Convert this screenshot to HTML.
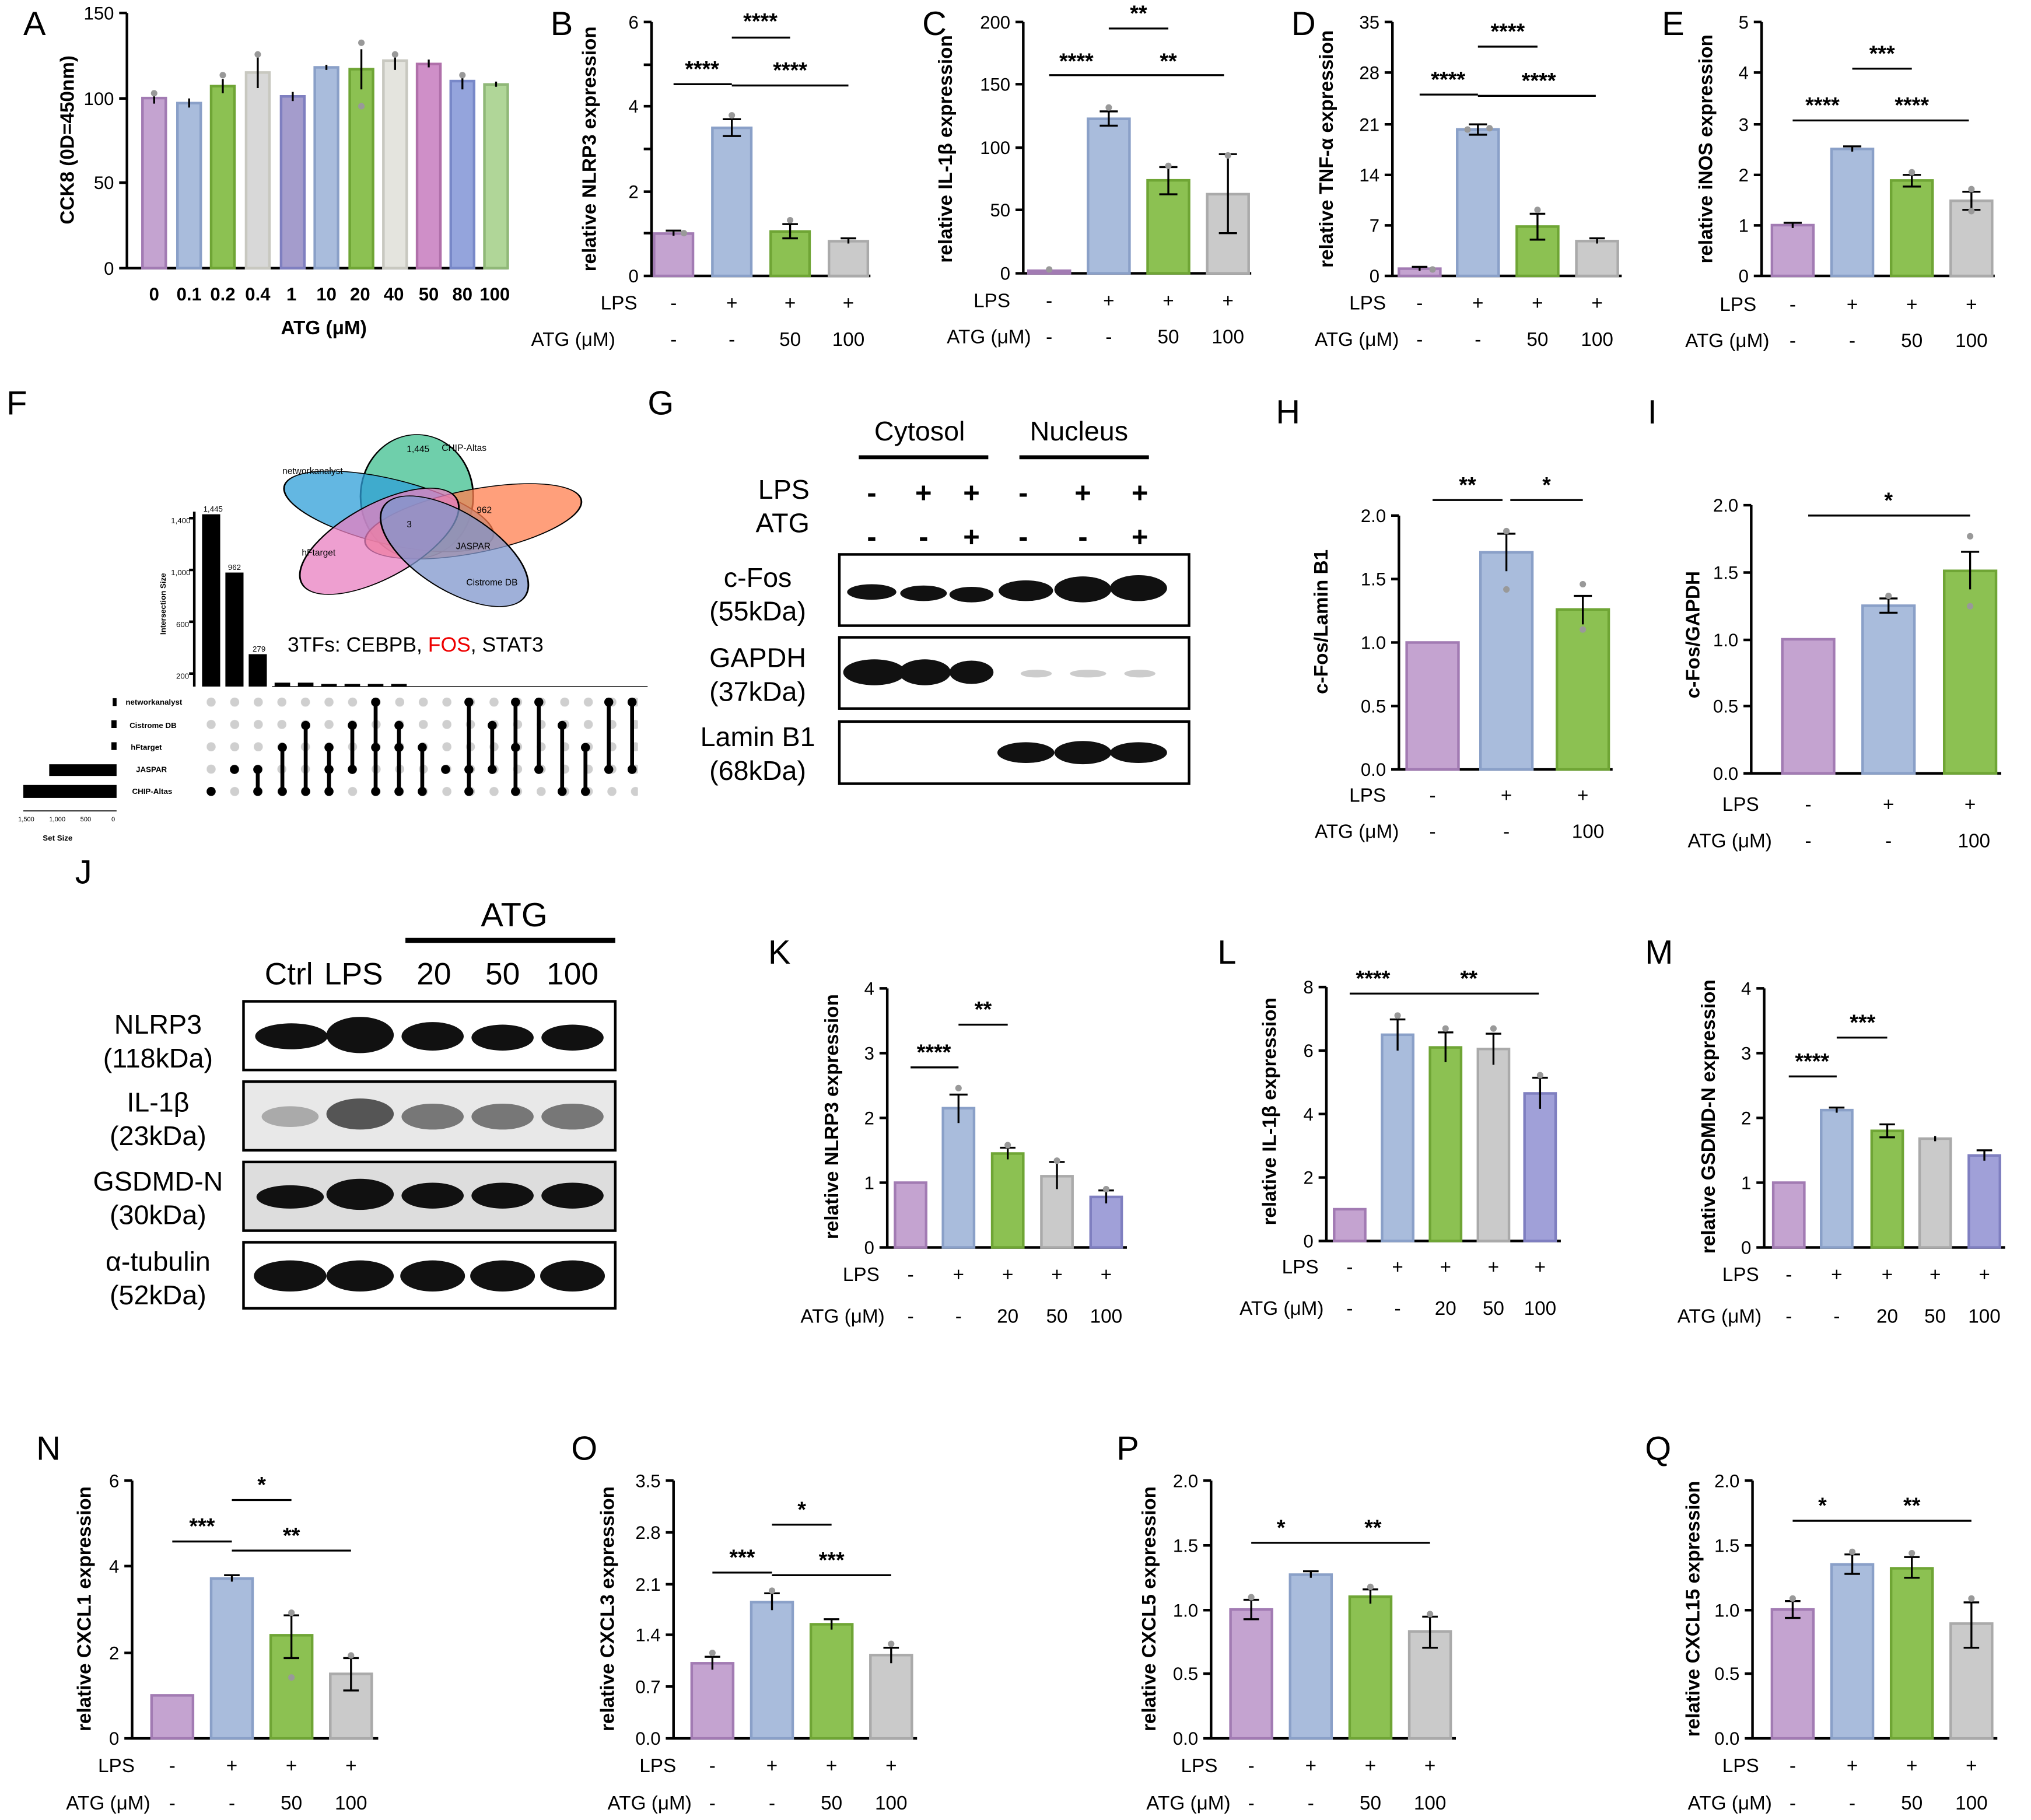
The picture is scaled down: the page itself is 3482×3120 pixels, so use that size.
<!DOCTYPE html>
<html><head><meta charset="utf-8"><style>
html,body{margin:0;padding:0;background:#fff}
svg{display:block}
text{font-family:"Liberation Sans",Arial,sans-serif;fill:#000}
.t{font-size:14px;text-anchor:end}
.c{font-size:15px;text-anchor:middle}
.r{font-size:15px;text-anchor:end}
.yl{font-size:15px;font-weight:bold;text-anchor:middle}
.L{font-size:26px}
.s{font-size:17px;font-weight:bold;text-anchor:middle}
.ax{stroke:#000;stroke-width:2;fill:none}
.e{stroke:#000;stroke-width:1.5;fill:none}
.P{fill:#c4a3d0;stroke:#a27bb3;stroke-width:2}
.B{fill:#a9bcdc;stroke:#8aa0c8;stroke-width:2}
.G{fill:#8cc152;stroke:#6fa535;stroke-width:2}
.Y{fill:#cacaca;stroke:#aaa;stroke-width:2}
.V{fill:#a0a0d8;stroke:#7f7fc0;stroke-width:2}
.W{fill:#e4e4de;stroke:#c8c8c0;stroke-width:2}
.K{fill:#cf8fc8;stroke:#b070aa;stroke-width:2}
.N{fill:#94a4dc;stroke:#7888c8;stroke-width:2}
.H{fill:#b0d698;stroke:#90b878;stroke-width:2}
.bl{font-size:21px;text-anchor:middle}
.band{fill:#111}
</style></head><body>
<svg width="3482" height="3120" viewBox="0 0 1568 1405" preserveAspectRatio="none" xmlns="http://www.w3.org/2000/svg">
<defs><pattern id="dp" x="159.5" y="533.4" width="18.2" height="17.25" patternUnits="userSpaceOnUse"><circle cx="3.5" cy="8.6" r="3.5" fill="#cfcfcf"/></pattern></defs>
<rect width="1568" height="1405" fill="#fff"/>
<text class="L" x="18" y="27">A</text><text class="L" x="425" y="27">B</text><text class="L" x="712" y="27">C</text><text class="L" x="997" y="27">D</text><text class="L" x="1283" y="27">E</text>
<text class="L" x="5" y="320">F</text><text class="L" x="500" y="320">G</text><text class="L" x="985" y="327">H</text><text class="L" x="1272" y="327">I</text>
<text class="L" x="58" y="682">J</text><text class="L" x="593" y="744">K</text><text class="L" x="940" y="744">L</text><text class="L" x="1270" y="744">M</text>
<text class="L" x="28" y="1127">N</text><text class="L" x="441" y="1127">O</text><text class="L" x="862" y="1127">P</text><text class="L" x="1270" y="1127">Q</text>

<!-- A -->
<g>
<path class="ax" d="M98 10V207H392M92 10H98M92 76H98M92 141H98M92 207H98"/>
<text class="t" x="88" y="15">150</text><text class="t" x="88" y="81">100</text><text class="t" x="88" y="146">50</text><text class="t" x="88" y="212">0</text>
<text class="yl" transform="translate(57,108) rotate(-90)">CCK8 (0D=450nm)</text>
<rect class="P" x="110" y="75.7" width="18" height="131.3"/><rect class="B" x="137" y="79.6" width="18" height="127.4"/>
<rect class="G" x="163" y="66.5" width="18" height="140.5"/><rect class="W" x="190" y="56" width="18" height="151" style="fill:#d8d8d8"/>
<rect class="V" x="217" y="74.4" width="18" height="132.6" style="fill:#a49ccc"/><rect class="B" x="243" y="52" width="18" height="155"/>
<rect class="G" x="270" y="53.4" width="18" height="153.6"/><rect class="W" x="296" y="46.8" width="18" height="160.2"/>
<rect class="K" x="322" y="49.4" width="18" height="157.6"/><rect class="N" x="348" y="62.6" width="18" height="144.4"/>
<rect class="H" x="374" y="65.2" width="18" height="141.8"/>
<path class="e" d="M119 71V80M146 76V83M172 61V72M199 44V68M226 71V78M252 50V54M279 38V69M305 40V54M331 46V52M357 56V69M383 63V67"/>
<g fill="#999"><circle cx="119" cy="72" r="2.5"/><circle cx="172" cy="58" r="2.5"/><circle cx="199" cy="42" r="2.5"/><circle cx="279" cy="33" r="2.5"/><circle cx="279" cy="82" r="2.5"/><circle cx="305" cy="42" r="2.5"/><circle cx="357" cy="58" r="2.5"/></g>
<g font-size="14" font-weight="bold" text-anchor="middle"><text x="119" y="232">0</text><text x="146" y="232">0.1</text><text x="172" y="232">0.2</text><text x="199" y="232">0.4</text><text x="225" y="232">1</text><text x="252" y="232">10</text><text x="278" y="232">20</text><text x="304" y="232">40</text><text x="331" y="232">50</text><text x="357" y="232">80</text><text x="382" y="232">100</text></g>
<text class="yl" x="250" y="258">ATG (μM)</text>
</g>

<!-- B -->
<g>
<path class="ax" d="M503 17V213H672M497 17H503M497 50H503M497 82H503M497 115H503M497 148H503M497 180H503M497 213H503"/>
<text class="t" x="493" y="22">6</text><text class="t" x="493" y="87">4</text><text class="t" x="493" y="153">2</text><text class="t" x="493" y="218">0</text>
<text class="yl" transform="translate(460,115) rotate(-90)">relative NLRP3 expression</text>
<rect class="P" x="505" y="180.3" width="30" height="32.7"/><rect class="B" x="550" y="98.7" width="30" height="114.3"/><rect class="G" x="595" y="178.7" width="30" height="34.3"/><rect class="Y" x="640" y="186.2" width="30" height="26.8"/>
<path class="e" d="M565 92V105M558 92H572M558 105H572M610 173V184M604 173H616M604 184H616M520 178V182M514 178H526M655 184V188M649 184H661"/>
<g fill="#999"><circle cx="565" cy="89" r="2.5"/><circle cx="610" cy="170" r="2.5"/><circle cx="528" cy="180" r="2.5"/></g>
<path class="e" d="M520 65H565M565 29H610M565 66H655"/>
<text class="s" x="542" y="59">****</text><text class="s" x="587" y="22">****</text><text class="s" x="610" y="60">****</text>
<text class="r" x="492" y="239">LPS</text><text class="r" x="475" y="267">ATG (μM)</text>
<g class="c"><text x="520" y="239">-</text><text x="565" y="239">+</text><text x="610" y="239">+</text><text x="655" y="239">+</text><text x="520" y="267">-</text><text x="565" y="267">-</text><text x="610" y="267">50</text><text x="655" y="267">100</text></g>
</g>

<!-- C -->
<g>
<path class="ax" d="M790 17V211H966M784 17H790M784 65H790M784 114H790M784 162H790M784 211H790"/>
<text class="t" x="780" y="22">200</text><text class="t" x="780" y="70">150</text><text class="t" x="780" y="119">100</text><text class="t" x="780" y="167">50</text><text class="t" x="780" y="216">0</text>
<text class="yl" transform="translate(735,115) rotate(-90)">relative IL-1β expression</text>
<rect class="P" x="794" y="209" width="32" height="2"/><rect class="B" x="840" y="91.7" width="32" height="119.3"/><rect class="G" x="886" y="139.2" width="32" height="71.8"/><rect class="Y" x="932" y="149.9" width="32" height="61.1"/>
<path class="e" d="M856 86V97M849 86H863M849 97H863M902 129V150M895 129H909M895 150H909M948 119V180M941 119H955M941 180H955"/>
<g fill="#999"><circle cx="856" cy="83" r="2.5"/><circle cx="902" cy="128" r="2.5"/><circle cx="948" cy="120" r="2.5"/><circle cx="810" cy="208" r="2.5"/></g>
<path class="e" d="M856 22H902M810 58H856M856 58H945"/>
<text class="s" x="879" y="16">**</text><text class="s" x="831" y="53">****</text><text class="s" x="902" y="53">**</text>
<text class="r" x="780" y="237">LPS</text><text class="r" x="796" y="265">ATG (μM)</text>
<g class="c"><text x="810" y="237">-</text><text x="856" y="237">+</text><text x="902" y="237">+</text><text x="948" y="237">+</text><text x="810" y="265">-</text><text x="856" y="265">-</text><text x="902" y="265">50</text><text x="948" y="265">100</text></g>
</g>

<!-- D -->
<g>
<path class="ax" d="M1075 17V213H1252M1069 17H1075M1069 56H1075M1069 96H1075M1069 135H1075M1069 174H1075M1069 213H1075"/>
<text class="t" x="1065" y="22">35</text><text class="t" x="1065" y="61">28</text><text class="t" x="1065" y="101">21</text><text class="t" x="1065" y="140">14</text><text class="t" x="1065" y="179">7</text><text class="t" x="1065" y="218">0</text>
<text class="yl" transform="translate(1029,115) rotate(-90)">relative TNF-α expression</text>
<rect class="P" x="1080" y="207.4" width="32" height="5.6"/><rect class="B" x="1125" y="99.9" width="32" height="113.1"/><rect class="G" x="1171" y="174.9" width="32" height="38.1"/><rect class="Y" x="1217" y="186.1" width="32" height="26.9"/>
<path class="e" d="M1187 165V185M1181 165H1193M1181 185H1193M1141 96V104M1134 96H1148M1134 104H1148M1096 206V209M1090 206H1102M1233 184V188M1227 184H1239"/>
<g fill="#999"><circle cx="1133" cy="100" r="2.5"/><circle cx="1150" cy="99" r="2.5"/><circle cx="1187" cy="162" r="2.5"/><circle cx="1106" cy="208" r="2.5"/></g>
<path class="e" d="M1096 73H1141M1141 36H1187M1141 74H1232"/>
<text class="s" x="1118" y="67">****</text><text class="s" x="1164" y="30">****</text><text class="s" x="1188" y="68">****</text>
<text class="r" x="1070" y="239">LPS</text><text class="r" x="1080" y="267">ATG (μM)</text>
<g class="c"><text x="1096" y="239">-</text><text x="1141" y="239">+</text><text x="1187" y="239">+</text><text x="1233" y="239">+</text><text x="1096" y="267">-</text><text x="1141" y="267">-</text><text x="1187" y="267">50</text><text x="1233" y="267">100</text></g>
</g>

<!-- E -->
<g>
<path class="ax" d="M1360 17V213H1540M1354 17H1360M1354 56H1360M1354 96H1360M1354 135H1360M1354 174H1360M1354 213H1360"/>
<text class="t" x="1350" y="22">5</text><text class="t" x="1350" y="61">4</text><text class="t" x="1350" y="101">3</text><text class="t" x="1350" y="140">2</text><text class="t" x="1350" y="179">1</text><text class="t" x="1350" y="218">0</text>
<text class="yl" transform="translate(1322,115) rotate(-90)">relative iNOS expression</text>
<rect class="P" x="1368" y="173.8" width="32" height="39.2"/><rect class="B" x="1414" y="115" width="32" height="98"/><rect class="G" x="1460" y="139.3" width="32" height="73.7"/><rect class="Y" x="1506" y="155" width="32" height="58"/>
<path class="e" d="M1384 172V176M1377 172H1391M1430 113V117M1423 113H1437M1476 135V144M1469 135H1483M1469 144H1483M1522 148V162M1515 148H1529M1515 162H1529"/>
<g fill="#999"><circle cx="1476" cy="133" r="2.5"/><circle cx="1522" cy="146" r="2.5"/><circle cx="1522" cy="163" r="2.5"/></g>
<path class="e" d="M1384 93H1430M1430 53H1476M1430 93H1520"/>
<text class="s" x="1407" y="87">****</text><text class="s" x="1453" y="47">***</text><text class="s" x="1476" y="87">****</text>
<text class="r" x="1356" y="240">LPS</text><text class="r" x="1366" y="268">ATG (μM)</text>
<g class="c"><text x="1384" y="240">-</text><text x="1430" y="240">+</text><text x="1476" y="240">+</text><text x="1522" y="240">+</text><text x="1384" y="268">-</text><text x="1430" y="268">-</text><text x="1476" y="268">50</text><text x="1522" y="268">100</text></g>
</g>

<!-- F -->
<g>
<g transform="translate(332,404) scale(1.45,0.77) translate(-322,-412)">
<g stroke="#000" stroke-width="0.9" fill-opacity="0.75" vector-effect="non-scaling-stroke">
<ellipse cx="315" cy="385" rx="30" ry="62" fill="#3fbf8f"/>
<ellipse cx="300" cy="400" rx="30" ry="62" fill="#2f9fd8" transform="rotate(-60 300 400)"/>
<ellipse cx="345" cy="410" rx="30" ry="62" fill="#ff7f4f" transform="rotate(65 345 410)"/>
<ellipse cx="295" cy="430" rx="28" ry="62" fill="#e87fc0" transform="rotate(35 295 430)"/>
<ellipse cx="335" cy="440" rx="28" ry="62" fill="#7f95cc" transform="rotate(-30 335 440)"/>
</g>
</g>
<g font-size="7" font-family="Liberation Serif"><text x="341" y="348">CHIP-Altas</text><text x="218" y="366">networkanalyst</text><text x="352" y="424">JASPAR</text><text x="233" y="429">hFtarget</text><text x="360" y="452">Cistrome DB</text><text x="314" y="349">1,445</text><text x="368" y="396">962</text><text x="314" y="407">3</text></g>
<path class="ax" d="M150 395V530M146 400H150M146 440H150M146 480H150M146 520H150" stroke-width="1"/>
<rect x="156" y="397" width="14" height="133"/><rect x="174" y="442" width="14" height="88"/><rect x="192" y="505" width="14" height="25"/>
<g><rect x="212" y="527" width="12" height="3"/><rect x="230" y="527" width="12" height="3"/><rect x="248" y="528" width="12" height="2"/><rect x="266" y="528" width="12" height="2"/><rect x="284" y="528" width="12" height="2"/><rect x="302" y="528" width="12" height="2"/></g>
<g font-size="6"><text x="132" y="404">1,400</text><text x="132" y="444">1,000</text><text x="136" y="484">600</text><text x="136" y="524">200</text><text x="157" y="395">1,445</text><text x="176" y="440">962</text><text x="195" y="503">279</text></g>
<text font-size="6" font-weight="bold" transform="translate(128,490) rotate(-90)">Intersection Size</text>
<text x="222" y="503" font-size="16">3TFs: CEBPB, <tspan fill="#e00">FOS</tspan>, STAT3</text>
<path d="M210 530H500" stroke="#000" stroke-width="0.6"/>
<rect x="159.5" y="533.4" width="333" height="86" fill="url(#dp)"/>
<path d="M199 594V611M218 577V611M236 560V611M254 577V611M272 560V594M290 542V611M308 560V611M326 577V611M362 542V611M380 560V594M398 542V611M416 542V594M434 560V611M452 577V611M470 542V594M488 542V594" stroke="#000" stroke-width="3"/>
<g fill="#000"><circle cx="163" cy="611" r="3.5"/><circle cx="181" cy="594" r="3.5"/><circle cx="199" cy="594" r="3.5"/><circle cx="199" cy="611" r="3.5"/>
<circle cx="218" cy="577" r="3.5"/><circle cx="218" cy="611" r="3.5"/><circle cx="236" cy="560" r="3.5"/><circle cx="236" cy="611" r="3.5"/>
<circle cx="254" cy="577" r="3.5"/><circle cx="254" cy="594" r="3.5"/><circle cx="254" cy="611" r="3.5"/><circle cx="272" cy="560" r="3.5"/><circle cx="272" cy="594" r="3.5"/>
<circle cx="290" cy="542" r="3.5"/><circle cx="290" cy="577" r="3.5"/><circle cx="290" cy="611" r="3.5"/><circle cx="308" cy="560" r="3.5"/><circle cx="308" cy="577" r="3.5"/><circle cx="308" cy="611" r="3.5"/>
<circle cx="326" cy="577" r="3.5"/><circle cx="326" cy="611" r="3.5"/><circle cx="344" cy="594" r="3.5"/><circle cx="362" cy="542" r="3.5"/><circle cx="362" cy="594" r="3.5"/><circle cx="362" cy="611" r="3.5"/>
<circle cx="380" cy="560" r="3.5"/><circle cx="380" cy="594" r="3.5"/><circle cx="398" cy="542" r="3.5"/><circle cx="398" cy="577" r="3.5"/><circle cx="398" cy="611" r="3.5"/>
<circle cx="416" cy="542" r="3.5"/><circle cx="416" cy="594" r="3.5"/><circle cx="434" cy="560" r="3.5"/><circle cx="434" cy="611" r="3.5"/><circle cx="452" cy="577" r="3.5"/><circle cx="452" cy="611" r="3.5"/>
<circle cx="470" cy="542" r="3.5"/><circle cx="470" cy="594" r="3.5"/><circle cx="488" cy="542" r="3.5"/><circle cx="488" cy="594" r="3.5"/></g>
<rect x="87" y="539" width="3" height="6"/><rect x="86" y="556" width="4" height="6"/><rect x="86" y="573" width="4" height="6"/><rect x="38" y="590" width="52" height="9"/><rect x="18" y="606" width="72" height="10"/>
<g font-size="6" font-weight="bold" font-family="Liberation Serif"><text x="97" y="544">networkanalyst</text><text x="100" y="562">Cistrome DB</text><text x="101" y="579">hFtarget</text><text x="105" y="596">JASPAR</text><text x="102" y="613">CHIP-Altas</text></g>
<path d="M18 626H90" stroke="#000" stroke-width="0.8"/>
<g font-size="5"><text x="14" y="634">1,500</text><text x="38" y="634">1,000</text><text x="62" y="634">500</text><text x="86" y="634">0</text></g>
<text x="33" y="649" font-size="6" font-weight="bold">Set Size</text>
</g>

<!-- G -->
<g>
<text class="bl" x="710" y="340">Cytosol</text><text class="bl" x="833" y="340">Nucleus</text>
<path d="M663 353H763M787 353H887" stroke="#000" stroke-width="3"/>
<text x="625" y="385" font-size="21" text-anchor="end">LPS</text><text x="625" y="411" font-size="21" text-anchor="end">ATG</text>
<g font-size="22" text-anchor="middle" font-weight="bold"><text x="673" y="388">-</text><text x="713" y="388">+</text><text x="750" y="388">+</text><text x="790" y="388">-</text><text x="836" y="388">+</text><text x="880" y="388">+</text>
<text x="673" y="422">-</text><text x="713" y="422">-</text><text x="750" y="422">+</text><text x="790" y="422">-</text><text x="836" y="422">-</text><text x="880" y="422">+</text></g>
<rect x="648" y="428" width="270" height="55" fill="#fff" stroke="#000" stroke-width="2"/>
<rect x="648" y="492" width="270" height="55" fill="#fff" stroke="#000" stroke-width="2"/>
<rect x="648" y="557" width="270" height="48" fill="#fff" stroke="#000" stroke-width="2"/>
<g class="band"><ellipse cx="673" cy="457" rx="19" ry="6"/><ellipse cx="713" cy="458" rx="18" ry="6"/><ellipse cx="750" cy="459" rx="17" ry="6"/><ellipse cx="792" cy="456" rx="21" ry="8"/><ellipse cx="836" cy="455" rx="22" ry="10"/><ellipse cx="879" cy="454" rx="22" ry="10"/>
<ellipse cx="675" cy="519" rx="24" ry="10"/><ellipse cx="714" cy="519" rx="20" ry="10"/><ellipse cx="750" cy="519" rx="17" ry="9"/>
<ellipse cx="792" cy="581" rx="22" ry="8"/><ellipse cx="836" cy="581" rx="22" ry="9"/><ellipse cx="879" cy="581" rx="22" ry="8"/></g>
<g fill="#ccc"><ellipse cx="800" cy="520" rx="12" ry="3"/><ellipse cx="840" cy="520" rx="14" ry="3"/><ellipse cx="880" cy="520" rx="12" ry="3"/></g>
<text class="bl" x="585" y="453">c-Fos</text><text class="bl" x="585" y="479">(55kDa)</text>
<text class="bl" x="585" y="515">GAPDH</text><text class="bl" x="585" y="541">(37kDa)</text>
<text class="bl" x="585" y="576">Lamin B1</text><text class="bl" x="585" y="602">(68kDa)</text>
</g>

<!-- H -->
<g>
<path class="ax" d="M1080 398V594H1245M1074 398H1080M1074 447H1080M1074 496H1080M1074 545H1080M1074 594H1080"/>
<text class="t" x="1070" y="403">2.0</text><text class="t" x="1070" y="452">1.5</text><text class="t" x="1070" y="501">1.0</text><text class="t" x="1070" y="550">0.5</text><text class="t" x="1070" y="599">0.0</text>
<text class="yl" transform="translate(1025,480) rotate(-90)">c-Fos/Lamin B1</text>
<rect class="P" x="1086" y="496" width="40" height="98"/><rect class="B" x="1143" y="426.4" width="40" height="167.6"/><rect class="G" x="1202" y="470.5" width="40" height="123.5"/>
<path class="e" d="M1163 412V441M1156 412H1170M1222 460V482M1215 460H1229"/>
<g fill="#999"><circle cx="1163" cy="410" r="2.5"/><circle cx="1163" cy="455" r="2.5"/><circle cx="1222" cy="451" r="2.5"/><circle cx="1222" cy="486" r="2.5"/></g>
<path class="e" d="M1106 386H1160M1166 386H1222"/>
<text class="s" x="1133" y="380">**</text><text class="s" x="1194" y="380">*</text>
<text class="r" x="1070" y="619">LPS</text><text class="r" x="1080" y="647">ATG (μM)</text>
<g class="c"><text x="1106" y="619">-</text><text x="1163" y="619">+</text><text x="1222" y="619">+</text><text x="1106" y="647">-</text><text x="1163" y="647">-</text><text x="1226" y="647">100</text></g>
</g>

<!-- I -->
<g>
<path class="ax" d="M1352 390V597H1545M1346 390H1352M1346 442H1352M1346 494H1352M1346 545H1352M1346 597H1352"/>
<text class="t" x="1342" y="395">2.0</text><text class="t" x="1342" y="447">1.5</text><text class="t" x="1342" y="499">1.0</text><text class="t" x="1342" y="550">0.5</text><text class="t" x="1342" y="602">0.0</text>
<text class="yl" transform="translate(1312,490) rotate(-90)">c-Fos/GAPDH</text>
<rect class="P" x="1376" y="493.5" width="40" height="103.5"/><rect class="B" x="1438" y="467.6" width="40" height="129.4"/><rect class="G" x="1501" y="440.7" width="40" height="156.3"/>
<path class="e" d="M1521 426V455M1514 426H1528M1458 462V473M1451 462H1465M1451 473H1465"/>
<g fill="#999"><circle cx="1521" cy="414" r="2.5"/><circle cx="1521" cy="468" r="2.5"/><circle cx="1458" cy="460" r="2.5"/></g>
<path class="e" d="M1396 398H1521"/>
<text class="s" x="1458" y="392">*</text>
<text class="r" x="1358" y="626">LPS</text><text class="r" x="1368" y="654">ATG (μM)</text>
<g class="c"><text x="1396" y="626">-</text><text x="1458" y="626">+</text><text x="1521" y="626">+</text><text x="1396" y="654">-</text><text x="1458" y="654">-</text><text x="1524" y="654">100</text></g>
</g>

<!-- J -->
<g>
<text x="397" y="715" font-size="26" text-anchor="middle">ATG</text>
<path d="M313 726H475" stroke="#000" stroke-width="4"/>
<g font-size="24" text-anchor="middle"><text x="223" y="760">Ctrl</text><text x="273" y="760">LPS</text><text x="335" y="760">20</text><text x="388" y="760">50</text><text x="442" y="760">100</text></g>
<rect x="188" y="773" width="287" height="53" fill="#fff" stroke="#000" stroke-width="2"/>
<rect x="188" y="835" width="287" height="53" fill="#e8e8e8" stroke="#000" stroke-width="2"/>
<rect x="188" y="897" width="287" height="53" fill="#ddd" stroke="#000" stroke-width="2"/>
<rect x="188" y="959" width="287" height="51" fill="#fff" stroke="#000" stroke-width="2"/>
<g class="band"><ellipse cx="225" cy="800" rx="28" ry="10"/><ellipse cx="278" cy="799" rx="26" ry="14"/><ellipse cx="334" cy="800" rx="24" ry="11"/><ellipse cx="388" cy="801" rx="24" ry="10"/><ellipse cx="442" cy="801" rx="24" ry="10"/>
<ellipse cx="224" cy="924" rx="26" ry="9"/><ellipse cx="278" cy="922" rx="26" ry="12"/><ellipse cx="334" cy="923" rx="24" ry="10"/><ellipse cx="388" cy="923" rx="24" ry="10"/><ellipse cx="442" cy="923" rx="24" ry="10"/>
<ellipse cx="224" cy="985" rx="28" ry="12"/><ellipse cx="278" cy="985" rx="26" ry="12"/><ellipse cx="334" cy="985" rx="25" ry="12"/><ellipse cx="388" cy="985" rx="25" ry="12"/><ellipse cx="442" cy="985" rx="25" ry="12"/></g>
<g fill="#777"><ellipse cx="224" cy="862" rx="22" ry="8" fill="#aaa"/><ellipse cx="278" cy="860" rx="26" ry="12" fill="#555"/><ellipse cx="334" cy="862" rx="24" ry="10"/><ellipse cx="388" cy="862" rx="24" ry="10"/><ellipse cx="442" cy="862" rx="24" ry="10"/></g>
<g class="bl"><text x="122" y="798">NLRP3</text><text x="122" y="824">(118kDa)</text><text x="122" y="858">IL-1β</text><text x="122" y="884">(23kDa)</text><text x="122" y="919">GSDMD-N</text><text x="122" y="945">(30kDa)</text><text x="122" y="981">α-tubulin</text><text x="122" y="1007">(52kDa)</text></g>
</g>

<!-- K -->
<g>
<path class="ax" d="M685 763V963H870M679 763H685M679 813H685M679 863H685M679 913H685M679 963H685"/>
<text class="t" x="675" y="768">4</text><text class="t" x="675" y="818">3</text><text class="t" x="675" y="868">2</text><text class="t" x="675" y="918">1</text><text class="t" x="675" y="968">0</text>
<text class="yl" transform="translate(647,862) rotate(-90)">relative NLRP3 expression</text>
<rect class="P" x="691" y="913" width="24" height="50"/><rect class="B" x="728" y="855.5" width="24" height="107.5"/><rect class="G" x="766" y="890.5" width="24" height="72.5"/><rect class="Y" x="804" y="908" width="24" height="55"/><rect class="V" x="842" y="924" width="24" height="39"/>
<path class="e" d="M740 845V867M733 845H747M778 886V895M772 886H784M816 897V918M810 897H822M854 919V929M848 919H860"/>
<g fill="#999"><circle cx="740" cy="840" r="2.5"/><circle cx="778" cy="884" r="2.5"/><circle cx="816" cy="896" r="2.5"/><circle cx="854" cy="918" r="2.5"/></g>
<path class="e" d="M703 824H740M740 791H778"/>
<text class="s" x="721" y="818">****</text><text class="s" x="759" y="785">**</text>
<text class="r" x="679" y="989">LPS</text><text class="r" x="683" y="1021">ATG (μM)</text>
<g class="c"><text x="703" y="989">-</text><text x="740" y="989">+</text><text x="778" y="989">+</text><text x="816" y="989">+</text><text x="854" y="989">+</text><text x="703" y="1021">-</text><text x="740" y="1021">-</text><text x="778" y="1021">20</text><text x="816" y="1021">50</text><text x="854" y="1021">100</text></g>
</g>

<!-- L -->
<g>
<path class="ax" d="M1024 762V958H1205M1018 762H1024M1018 811H1024M1018 860H1024M1018 909H1024M1018 958H1024"/>
<text class="t" x="1014" y="767">8</text><text class="t" x="1014" y="816">6</text><text class="t" x="1014" y="865">4</text><text class="t" x="1014" y="914">2</text><text class="t" x="1014" y="963">0</text>
<text class="yl" transform="translate(985,858) rotate(-90)">relative IL-1β expression</text>
<rect class="P" x="1030" y="933.5" width="24" height="24.5"/><rect class="B" x="1067" y="798.8" width="24" height="159.2"/><rect class="G" x="1104" y="808.6" width="24" height="149.4"/><rect class="Y" x="1141" y="809.8" width="24" height="148.2"/><rect class="V" x="1177" y="844.1" width="24" height="113.9"/>
<path class="e" d="M1079 787V811M1073 787H1085M1116 797V820M1110 797H1122M1153 798V822M1147 798H1159M1189 832V856M1183 832H1195"/>
<g fill="#999"><circle cx="1079" cy="784" r="2.5"/><circle cx="1116" cy="794" r="2.5"/><circle cx="1153" cy="794" r="2.5"/><circle cx="1189" cy="830" r="2.5"/></g>
<path class="e" d="M1042 767H1079M1079 767H1188"/>
<text class="s" x="1060" y="761">****</text><text class="s" x="1134" y="761">**</text>
<text class="r" x="1018" y="983">LPS</text><text class="r" x="1022" y="1015">ATG (μM)</text>
<g class="c"><text x="1042" y="983">-</text><text x="1079" y="983">+</text><text x="1116" y="983">+</text><text x="1153" y="983">+</text><text x="1189" y="983">+</text><text x="1042" y="1015">-</text><text x="1079" y="1015">-</text><text x="1116" y="1015">20</text><text x="1153" y="1015">50</text><text x="1189" y="1015">100</text></g>
</g>

<!-- M -->
<g>
<path class="ax" d="M1362 763V963H1548M1356 763H1362M1356 813H1362M1356 863H1362M1356 913H1362M1356 963H1362"/>
<text class="t" x="1352" y="768">4</text><text class="t" x="1352" y="818">3</text><text class="t" x="1352" y="868">2</text><text class="t" x="1352" y="918">1</text><text class="t" x="1352" y="968">0</text>
<text class="yl" transform="translate(1324,862) rotate(-90)">relative GSDMD-N expression</text>
<rect class="P" x="1369" y="913" width="24" height="50"/><rect class="B" x="1406" y="857" width="24" height="106"/><rect class="G" x="1445" y="873" width="24" height="90"/><rect class="Y" x="1482" y="879" width="24" height="84"/><rect class="V" x="1520" y="892" width="24" height="71"/>
<path class="e" d="M1418 855V859M1412 855H1424M1457 868V878M1451 868H1463M1451 878H1463M1494 877V881M1532 888V896M1526 888H1538"/>
<path class="e" d="M1381 831H1418M1418 801H1457"/>
<text class="s" x="1399" y="825">****</text><text class="s" x="1438" y="795">***</text>
<text class="r" x="1358" y="989">LPS</text><text class="r" x="1360" y="1021">ATG (μM)</text>
<g class="c"><text x="1381" y="989">-</text><text x="1418" y="989">+</text><text x="1457" y="989">+</text><text x="1494" y="989">+</text><text x="1532" y="989">+</text><text x="1381" y="1021">-</text><text x="1418" y="1021">-</text><text x="1457" y="1021">20</text><text x="1494" y="1021">50</text><text x="1532" y="1021">100</text></g>
</g>

<!-- N -->
<g>
<path class="ax" d="M102 1143V1342H292M96 1143H102M96 1209H102M96 1276H102M96 1342H102"/>
<text class="t" x="92" y="1148">6</text><text class="t" x="92" y="1214">4</text><text class="t" x="92" y="1281">2</text><text class="t" x="92" y="1347">0</text>
<text class="yl" transform="translate(70,1242) rotate(-90)">relative CXCL1 expression</text>
<rect class="P" x="117" y="1308.8" width="32" height="33.2"/><rect class="B" x="163" y="1218.6" width="32" height="123.4"/><rect class="G" x="209" y="1262.4" width="32" height="79.6"/><rect class="Y" x="255" y="1292.2" width="32" height="49.8"/>
<path class="e" d="M225 1247V1280M219 1247H231M219 1280H231M271 1280V1305M265 1280H277M265 1305H277M179 1216V1221M173 1216H185"/>
<g fill="#999"><circle cx="225" cy="1245" r="2.5"/><circle cx="225" cy="1295" r="2.5"/><circle cx="271" cy="1278" r="2.5"/></g>
<path class="e" d="M133 1190H179M179 1158H225M179 1197H271"/>
<text class="s" x="156" y="1184">***</text><text class="s" x="202" y="1152">*</text><text class="s" x="225" y="1191">**</text>
<text class="r" x="104" y="1368">LPS</text><text class="r" x="116" y="1397">ATG (μM)</text>
<g class="c"><text x="133" y="1368">-</text><text x="179" y="1368">+</text><text x="225" y="1368">+</text><text x="271" y="1368">+</text><text x="133" y="1397">-</text><text x="179" y="1397">-</text><text x="225" y="1397">50</text><text x="271" y="1397">100</text></g>
</g>

<!-- O -->
<g>
<path class="ax" d="M520 1143V1342H708M514 1143H520M514 1183H520M514 1223H520M514 1262H520M514 1302H520M514 1342H520"/>
<text class="t" x="510" y="1148">3.5</text><text class="t" x="510" y="1188">2.8</text><text class="t" x="510" y="1228">2.1</text><text class="t" x="510" y="1267">1.4</text><text class="t" x="510" y="1307">0.7</text><text class="t" x="510" y="1347">0.0</text>
<text class="yl" transform="translate(474,1242) rotate(-90)">relative CXCL3 expression</text>
<rect class="P" x="534" y="1284" width="32" height="58"/><rect class="B" x="580" y="1236.8" width="32" height="105.2"/><rect class="G" x="626" y="1253.9" width="32" height="88.1"/><rect class="Y" x="672" y="1277.7" width="32" height="64.3"/>
<path class="e" d="M550 1279V1289M544 1279H556M596 1230V1243M590 1230H602M642 1250V1258M636 1250H648M688 1272V1284M682 1272H694"/>
<g fill="#999"><circle cx="550" cy="1276" r="2.5"/><circle cx="596" cy="1228" r="2.5"/><circle cx="688" cy="1269" r="2.5"/></g>
<path class="e" d="M550 1214H596M596 1177H642M596 1216H688"/>
<text class="s" x="573" y="1208">***</text><text class="s" x="619" y="1171">*</text><text class="s" x="642" y="1210">***</text>
<text class="r" x="522" y="1368">LPS</text><text class="r" x="534" y="1397">ATG (μM)</text>
<g class="c"><text x="550" y="1368">-</text><text x="596" y="1368">+</text><text x="642" y="1368">+</text><text x="688" y="1368">+</text><text x="550" y="1397">-</text><text x="596" y="1397">-</text><text x="642" y="1397">50</text><text x="688" y="1397">100</text></g>
</g>

<!-- P -->
<g>
<path class="ax" d="M935 1143V1342H1124M929 1143H935M929 1193H935M929 1243H935M929 1292H935M929 1342H935"/>
<text class="t" x="925" y="1148">2.0</text><text class="t" x="925" y="1198">1.5</text><text class="t" x="925" y="1248">1.0</text><text class="t" x="925" y="1297">0.5</text><text class="t" x="925" y="1347">0.0</text>
<text class="yl" transform="translate(892,1242) rotate(-90)">relative CXCL5 expression</text>
<rect class="P" x="950" y="1242.5" width="32" height="99.5"/><rect class="B" x="996" y="1215.6" width="32" height="126.4"/><rect class="G" x="1042" y="1232.6" width="32" height="109.4"/><rect class="Y" x="1088" y="1259.4" width="32" height="82.6"/>
<path class="e" d="M1104 1248V1272M1098 1248H1110M1098 1272H1110M966 1235V1250M960 1235H972M960 1250H972M1058 1227V1238M1052 1227H1064M1012 1213V1218M1006 1213H1018"/>
<g fill="#999"><circle cx="966" cy="1233" r="2.5"/><circle cx="1058" cy="1225" r="2.5"/><circle cx="1104" cy="1246" r="2.5"/></g>
<path class="e" d="M966 1191H1012M1012 1191H1104"/>
<text class="s" x="989" y="1185">*</text><text class="s" x="1060" y="1185">**</text>
<text class="r" x="940" y="1368">LPS</text><text class="r" x="950" y="1397">ATG (μM)</text>
<g class="c"><text x="966" y="1368">-</text><text x="1012" y="1368">+</text><text x="1058" y="1368">+</text><text x="1104" y="1368">+</text><text x="966" y="1397">-</text><text x="1012" y="1397">-</text><text x="1058" y="1397">50</text><text x="1104" y="1397">100</text></g>
</g>

<!-- Q -->
<g>
<path class="ax" d="M1353 1143V1342H1542M1347 1143H1353M1347 1193H1353M1347 1243H1353M1347 1292H1353M1347 1342H1353"/>
<text class="t" x="1343" y="1148">2.0</text><text class="t" x="1343" y="1198">1.5</text><text class="t" x="1343" y="1248">1.0</text><text class="t" x="1343" y="1297">0.5</text><text class="t" x="1343" y="1347">0.0</text>
<text class="yl" transform="translate(1312,1242) rotate(-90)">relative CXCL15 expression</text>
<rect class="P" x="1368" y="1242.5" width="32" height="99.5"/><rect class="B" x="1414" y="1207.7" width="32" height="134.3"/><rect class="G" x="1460" y="1210.7" width="32" height="131.3"/><rect class="Y" x="1506" y="1253.4" width="32" height="88.6"/>
<path class="e" d="M1522 1237V1272M1516 1237H1528M1516 1272H1528M1384 1236V1249M1378 1236H1390M1378 1249H1390M1430 1200V1215M1424 1200H1436M1424 1215H1436M1476 1202V1218M1470 1202H1482M1470 1218H1482"/>
<g fill="#999"><circle cx="1384" cy="1234" r="2.5"/><circle cx="1430" cy="1198" r="2.5"/><circle cx="1476" cy="1199" r="2.5"/><circle cx="1522" cy="1234" r="2.5"/></g>
<path class="e" d="M1384 1174H1430M1430 1174H1522"/>
<text class="s" x="1407" y="1168">*</text><text class="s" x="1476" y="1168">**</text>
<text class="r" x="1358" y="1368">LPS</text><text class="r" x="1368" y="1397">ATG (μM)</text>
<g class="c"><text x="1384" y="1368">-</text><text x="1430" y="1368">+</text><text x="1476" y="1368">+</text><text x="1522" y="1368">+</text><text x="1384" y="1397">-</text><text x="1430" y="1397">-</text><text x="1476" y="1397">50</text><text x="1522" y="1397">100</text></g>
</g>
</svg>
</body></html>
